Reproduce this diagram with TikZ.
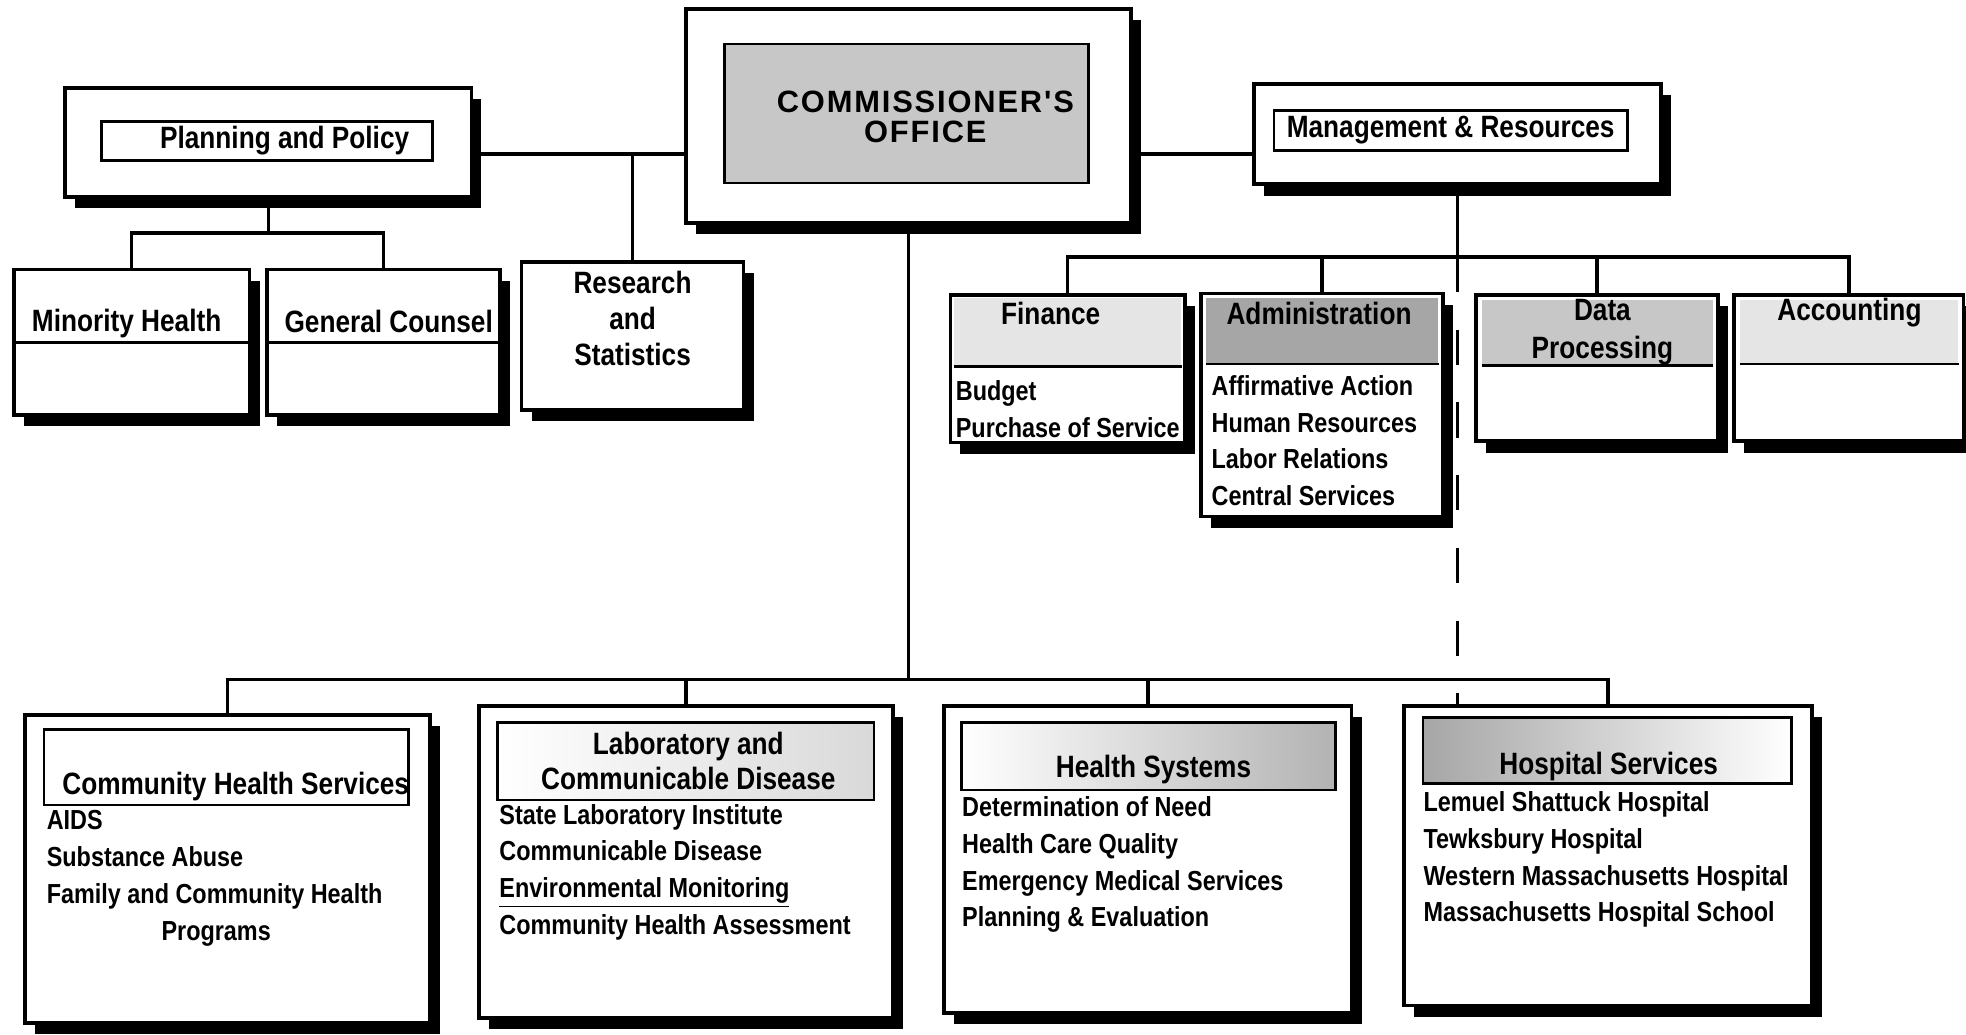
\documentclass[tikz,border=0pt]{standalone}
\usepackage{fontspec}
\setmainfont{Liberation Sans}[FakeStretch=0.85]
\newfontfamily\officefont{Liberation Sans}[LetterSpace=6]
\usetikzlibrary{shadows}

\begin{document}
\begin{tikzpicture}[x=0.02cm, y=-0.02cm,
    unitbox/.style={draw, line width=1.7pt, fill=white, inner sep=0pt,
                    drop shadow={shadow xshift=0.16cm, shadow yshift=-0.18cm, fill=black, opacity=1}},
    plate/.style={draw, line width=1.2pt, inner sep=0pt},
    band/.style={fill=black!#1, inner sep=0pt},
    heading/.style={font=\fontsize{14}{16.4}\selectfont\bfseries, align=center, inner sep=0pt},
    items/.style={font=\fontsize{12.5}{16.7}\selectfont\bfseries, align=left, anchor=north west, inner sep=0pt},
    link/.style={line width=1.6pt},
    dashlink/.style={line width=1.6pt, dash pattern=on 0.56cm off 0.6cm},
    rule/.style={line width=1.2pt}
]
\path[use as bounding box, fill=white] (0,0) rectangle (1568,825);

% top row
\node[unitbox, minimum width=6.48cm, minimum height=1.74cm] (plan) at (214,113.5) {};
\node[plate, minimum width=5.28cm, minimum height=0.62cm] (plantitle) at (213,112.5) {};
\node[heading] (plantext) at (227,112) {Planning and Policy};
\node[unitbox, minimum width=7.1cm, minimum height=3.42cm] (comm) at (724.5,92.5) {};
\node[plate, fill=black!22, minimum width=5.8cm, minimum height=2.22cm] (commplate) at (723,90.5) {};
\node[align=center, inner sep=0pt, font=\officefont\fontsize{14}{13.6}\selectfont\bfseries] (commtext) at (738,93) {COMMISSIONER'S\\OFFICE};
\node[unitbox, minimum width=6.5cm, minimum height=1.6cm] (mgmt) at (1162.5,107) {};
\node[plate, heading, minimum width=5.64cm, minimum height=0.64cm] (mgmttitle) at (1157,104) {Management \& Resources};

% staff units
\node[unitbox, minimum width=3.76cm, minimum height=2.32cm] (minority) at (105,273) {};
\node[heading] (minoritytext) at (101,258) {Minority Health};
\node[unitbox, minimum width=3.72cm, minimum height=2.32cm] (counsel) at (306,273) {};
\node[heading] (counseltext) at (310,256) {General Counsel};
\node[unitbox, minimum width=3.54cm, minimum height=2.36cm] (research) at (504.5,268) {};
\node[heading] (researchtext) at (504.5,254) {Research\\and\\Statistics};
\draw[rule] (minority.west) -- (minority.east);
\draw[rule] (counsel.west) -- (counsel.east);

% management units
\node[unitbox, minimum width=3.74cm, minimum height=2.36cm] (fin) at (851.5,294) {};
\node[band=10, minimum width=3.62cm, minimum height=1.08cm] (finhead) at (851.5,265) {};
\node[heading] (fintext) at (838,250) {Finance};
\node[items] (finitems) at (762,303) {Budget\\Purchase of Service};

\node[unitbox, minimum width=3.86cm, minimum height=3.56cm] (adm) at (1054.5,323) {};
\node[band=35, minimum width=3.7cm, minimum height=1.04cm] (admhead) at (1054.5,264) {};
\node[heading] (admtext) at (1052,250) {Administration};
\node[items] (admitems) at (966,299) {Affirmative Action\\Human Resources\\Labor Relations\\Central Services};

\node[unitbox, minimum width=3.86cm, minimum height=2.34cm] (data) at (1273.5,293.5) {};
\node[band=22, minimum width=3.68cm, minimum height=1.04cm] (datahead) at (1274,265) {};
\node[heading, font=\fontsize{14}{17}\selectfont\bfseries] (datatext) at (1278,265) {Data\\Processing};

\node[unitbox, minimum width=3.66cm, minimum height=2.34cm] (acct) at (1474.5,293.5) {};
\node[band=10, minimum width=3.48cm, minimum height=1.02cm] (accthead) at (1475,264.5) {};
\node[heading] (accttext) at (1475,249) {Accounting};

\draw[rule] (finhead.south west) -- (finhead.south east);
\draw[rule] (admhead.south west) -- (admhead.south east);
\draw[rule] (datahead.south west) -- (datahead.south east);
\draw[rule] (accthead.south west) -- (accthead.south east);

% line bureaus
\node[unitbox, minimum width=6.46cm, minimum height=4.92cm] (chs) at (181.5,693) {};
\node[plate, minimum width=5.82cm, minimum height=1.2cm] (chstitle) at (180.5,612) {};
\node[heading] (chstext) at (188,627) {Community Health Services};
\node[items] (chsitems) at (37,646) {AIDS\\Substance Abuse\\Family and Community Health\\\hspace*{1.83cm}Programs};

\node[unitbox, minimum width=6.6cm, minimum height=4.98cm] (lab) at (547,687.5) {};
\node[plate, left color=white, right color=black!15, minimum width=6cm, minimum height=1.24cm] (labtitle) at (547,607) {};
\node[heading, font=\fontsize{14}{15.9}\selectfont\bfseries] (labtext) at (549,607) {Laboratory and\\Communicable Disease};
\node[items] (labitems) at (398,641) {State Laboratory Institute\\Communicable Disease\\\underline{Environmental Monitoring}\\Community Health Assessment};

\node[unitbox, minimum width=6.5cm, minimum height=4.9cm] (hs) at (915.5,685.5) {};
\node[plate, left color=white, right color=black!30, minimum width=5.96cm, minimum height=1.08cm] (hstitle) at (916,603) {};
\node[heading] (hstext) at (920,614) {Health Systems};
\node[items] (hsitems) at (767,635) {Determination of Need\\Health Care Quality\\Emergency Medical Services\\Planning \& Evaluation};

\node[unitbox, minimum width=6.5cm, minimum height=4.78cm] (hosp) at (1282.5,682.5) {};
\node[plate, left color=black!35, right color=white, minimum width=5.88cm, minimum height=1.06cm] (hosptitle) at (1282,598.5) {};
\node[heading] (hosptext) at (1283,611) {Hospital Services};
\node[items] (hospitems) at (1135,631) {Lemuel Shattuck Hospital\\Tewksbury Hospital\\Western Massachusetts Hospital\\Massachusetts Hospital School};

% connectors
\coordinate (rsbus) at (504.5,123);
\coordinate (pbus) at (214,186);
\coordinate (mbus) at (1162.5,205);
\coordinate (cbus) at (724.5,542);

\draw[link] (plan.east |- rsbus) -- (comm.west |- rsbus);
\draw[link] (rsbus) -- (research.north);
\draw[link] (comm.east |- rsbus) -- (mgmt.west |- rsbus);
\draw[link] (plan.south) -- (pbus);
\draw[link] (minority.north) |- (pbus) -| (counsel.north);

\draw[link] (mgmt.south) -- (mbus);
\draw[link] (fin.north) |- (mbus) -| (acct.north);
\draw[link] (adm.north) -- (adm.north |- mbus);
\draw[link] (data.north) -- (data.north |- mbus);
\draw[dashlink] (mbus) -- (mbus |- hosp.north);

\draw[link] (comm.south) -- (cbus);
\draw[link] (chs.north) |- (cbus) -| (hosp.north);
\draw[link] (lab.north) -- (lab.north |- cbus);
\draw[link] (hs.north) -- (hs.north |- cbus);
\end{tikzpicture}
\end{document}
